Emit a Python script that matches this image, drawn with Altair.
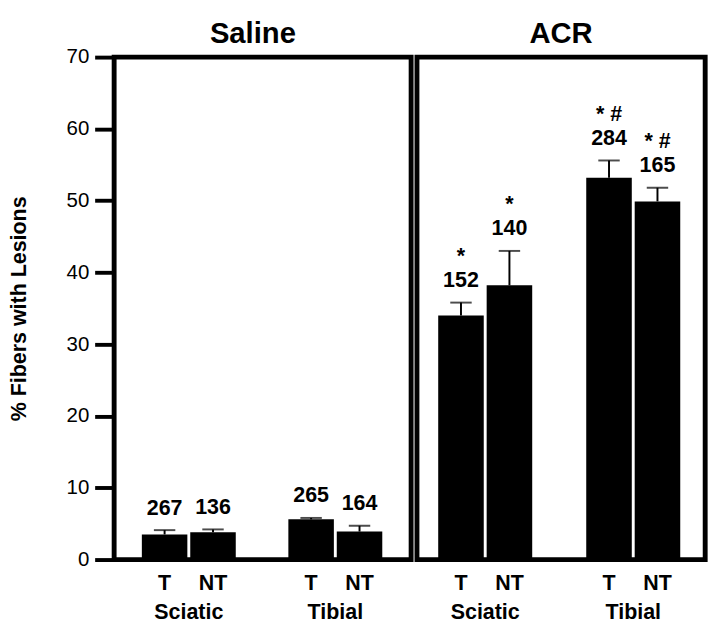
import altair as alt
import pandas as pd

# ---- data ----
treatment = ["Saline", "Saline", "Saline", "Saline", "ACR", "ACR", "ACR", "ACR"]
nerve = ["Sciatic", "Sciatic", "Tibial", "Tibial", "Sciatic", "Sciatic", "Tibial", "Tibial"]
side = ["T", "NT", "T", "NT", "T", "NT", "T", "NT"]
mean = [3.5, 3.8, 5.6, 3.9, 34.0, 38.2, 53.2, 49.9]
err = [0.6, 0.4, 0.2, 0.8, 1.8, 4.8, 2.4, 1.9]
count = ["267", "136", "265", "164", "152", "140", "284", "165"]
sig = ["", "", "", "", "*", "*", "* #", "* #"]

df = pd.DataFrame({
    "treatment": treatment, "nerve": nerve, "side": side,
    "mean": mean, "err": err, "count": count, "sig": sig,
})
df["top"] = df["mean"] + df["err"]

FONT = "Liberation Sans"


def panel(name, width, pi, po, align, show_y, title_offset, title_dx):
    d = df[df["treatment"] == name]
    x = alt.X("nerve:N", sort=["Sciatic", "Tibial"],
              scale=alt.Scale(paddingInner=pi, paddingOuter=po, align=align),
              axis=alt.Axis(title=None, labelAngle=0, ticks=False, domain=False,
                            labelFont=FONT, labelFontSize=22, labelFontWeight="bold",
                            labelColor="black", labelPadding=44))
    xo = alt.XOffset("side:N", sort=["T", "NT"], scale=alt.Scale(paddingInner=0.06))
    if show_y:
        yaxis = alt.Axis(title="% Fibers with Lesions", values=list(range(0, 71, 10)),
                         grid=False, domain=False, tickSize=20, tickWidth=4,
                         tickColor="black", labelFont=FONT, labelFontSize=21,
                         labelColor="black", labelPadding=6,
                         titleFont=FONT, titleFontSize=22, titleFontWeight="bold",
                         titleColor="black", titlePadding=37)
    else:
        yaxis = None
    yscale = alt.Scale(domain=[0, 70], nice=False, zero=True)
    base = alt.Chart(d).encode(x=x, xOffset=xo)
    bars = base.mark_bar(color="black").encode(
        y=alt.Y("mean:Q", scale=yscale, axis=yaxis))
    rule = base.mark_rule(color="black", strokeWidth=2).encode(
        y=alt.Y("mean:Q", scale=yscale), y2="top:Q")
    cap = base.mark_tick(color="black", thickness=2, size=22).encode(
        y=alt.Y("top:Q", scale=yscale))
    cnt = base.mark_text(font=FONT, fontSize=22, fontWeight="bold", baseline="bottom",
                         dy=-11, color="black").encode(
        y=alt.Y("top:Q", scale=yscale), text="count:N")
    star = base.mark_text(font=FONT, fontSize=22, fontWeight="bold", baseline="bottom",
                          dy=-36, color="black").encode(
        y=alt.Y("top:Q", scale=yscale), text="sig:N")
    lab = base.mark_text(font=FONT, fontSize=22, fontWeight="bold", baseline="top",
                         dy=14, color="black").encode(
        y=alt.datum(0), text="side:N")
    return alt.layer(bars, rule, cap, cnt, star, lab).properties(
        width=width, height=516,
        title=alt.TitleParams(name, font=FONT, fontSize=30, fontWeight="bold",
                              color="black", anchor="middle", offset=title_offset,
                              dx=title_dx))


left = panel("Saline", 305, 0.359, 0.193, 0.49, True, -2, -10)
right = panel("ACR", 296, 0.365, 0.156, 0.46, False, 9, 0)

chart = alt.hconcat(left, right, spacing=0).resolve_scale(
    x="independent", xOffset="independent"
).properties(
    padding={"left": -3, "top": 0, "right": 4, "bottom": 0}
).configure_view(stroke="black", strokeWidth=5)

chart.save("out.html", embed_options={"renderer": "svg", "actions": False})
